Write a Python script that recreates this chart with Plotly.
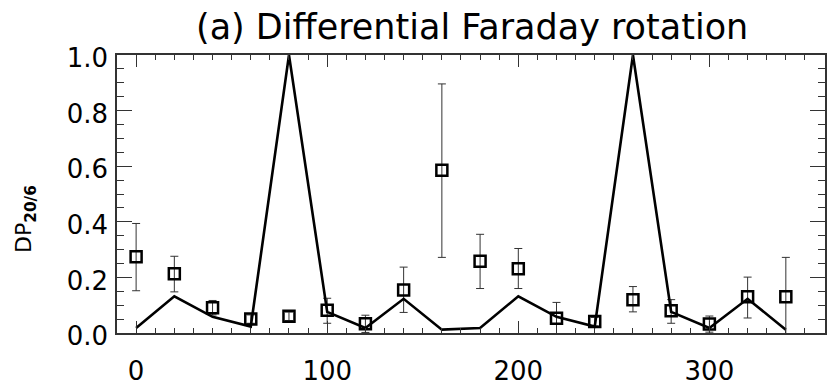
import plotly.graph_objects as go

# Azimuth bins (deg)
azimuth = [0, 20, 40, 60, 80, 100, 120, 140, 160, 180, 200, 220, 240, 260, 280, 300, 320, 340]

# Measured differential depolarisation DP_20/6 with errors
dp_obs = [0.274, 0.213, 0.091, 0.050, 0.060, 0.082, 0.033, 0.155, 0.585,
          0.258, 0.231, 0.053, 0.041, 0.120, 0.080, 0.032, 0.130, 0.130]
err_plus = [0.120, 0.063, 0.026, 0.015, 0.015, 0.043, 0.031, 0.082, 0.311,
            0.097, 0.073, 0.057, 0.015, 0.047, 0.040, 0.029, 0.071, 0.142]
err_minus = [0.122, 0.065, 0.026, 0.015, 0.015, 0.047, 0.031, 0.081, 0.313,
             0.098, 0.071, 0.057, 0.015, 0.044, 0.045, 0.029, 0.076, 0.142]

# Model prediction for differential Faraday rotation
dp_model = [0.018, 0.132, 0.058, 0.023, 1.000, 0.076, 0.018, 0.123, 0.012,
            0.018, 0.132, 0.058, 0.023, 1.000, 0.076, 0.018, 0.123, 0.012]

x_ticks = [0, 100, 200, 300]
y_ticks = [0.0, 0.2, 0.4, 0.6, 0.8, 1.0]

FONT = "DejaVu Sans"
AXIS_COLOR = "#333333"

fig = go.Figure()

fig.add_trace(go.Scatter(
    x=azimuth, y=dp_obs, mode="markers",
    marker=dict(symbol="square-open", size=11, color="black",
                line=dict(width=2.5, color="black")),
    error_y=dict(type="data", symmetric=False, array=err_plus,
                 arrayminus=err_minus, color="#333333", thickness=1, width=4),
    showlegend=False,
))

fig.add_trace(go.Scatter(
    x=azimuth, y=dp_model, mode="lines",
    line=dict(color="black", width=2.6),
    showlegend=False,
))

fig.update_layout(
    width=829, height=388,
    margin=dict(l=117, r=2, t=55, b=48),
    paper_bgcolor="white", plot_bgcolor="white",
    font=dict(family=FONT, color="black"),
    title=dict(text="(a) Differential Faraday rotation",
               font=dict(family=FONT, size=35, color="black"),
               x=0.5695, xanchor="center", xref="container",
               y=0.93, yanchor="middle", yref="container"),
    annotations=[dict(
        text="DP<sub><b>20/6</b></sub>", textangle=-90,
        xref="paper", x=0, xanchor="center", xshift=-92,
        yref="paper", y=0.41, yanchor="middle",
        showarrow=False, font=dict(family=FONT, size=22, color="black"),
    )],
)

fig.update_xaxes(
    range=[-10, 360.5], tickvals=x_ticks,
    ticks="inside", ticklen=12, tickwidth=1, tickcolor=AXIS_COLOR,
    minor=dict(dtick=10, ticks="inside", ticklen=5, tickwidth=1, tickcolor=AXIS_COLOR),
    showline=True, linecolor=AXIS_COLOR, linewidth=1.5, mirror="allticks",
    showgrid=False, zeroline=False,
    tickfont=dict(family=FONT, size=26, color="black"),
    ticklabelstandoff=14,
)

fig.update_yaxes(
    range=[0, 1.0], tickvals=y_ticks, ticktext=[f"{v:.1f}" for v in y_ticks],
    ticks="inside", ticklen=15, tickwidth=1, tickcolor=AXIS_COLOR,
    minor=dict(dtick=0.05, ticks="inside", ticklen=7, tickwidth=1, tickcolor=AXIS_COLOR),
    showline=True, linecolor=AXIS_COLOR, linewidth=1.5, mirror="allticks",
    showgrid=False, zeroline=False,
    tickfont=dict(family=FONT, size=26, color="black"),
    ticklabelstandoff=2, ticklabelshift=3,
)

fig.write_html("out.html")
